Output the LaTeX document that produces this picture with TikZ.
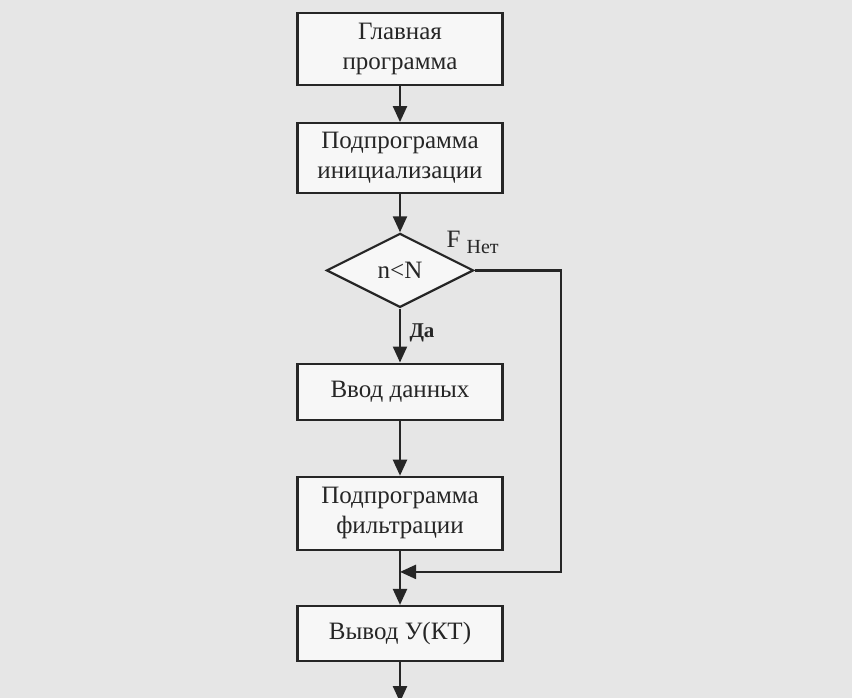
\documentclass[tikz,border=0pt]{standalone}
\usepackage{fontspec}
\setmainfont{Liberation Serif}
\usepackage{tikz}
\usetikzlibrary{arrows.meta,positioning,shapes.geometric}
\definecolor{inkgray}{HTML}{262626}
\definecolor{pagegray}{HTML}{E6E6E6}

\begin{document}
\begin{tikzpicture}[
  x=1pt,y=1pt,
  b/.style={draw=inkgray,line width=2.2pt,fill=black!3,align=center,text=inkgray,
    font=\fontsize{25}{30}\selectfont,minimum width=205pt,inner sep=2pt},
  dec/.style={diamond,draw=inkgray,line width=2.2pt,fill=black!3,text=inkgray,
    font=\fontsize{25}{30}\selectfont,minimum width=147pt,minimum height=74pt,inner sep=0pt},
  lbl/.style={text=inkgray,inner sep=0pt},
  arr/.style={-{Triangle[length=16pt,width=14pt]},draw=inkgray,line width=2.2pt}
]
\fill[pagegray] (0,0) rectangle (852,-698);
\useasboundingbox (0,0) rectangle (852,-698);
\node[b,minimum height=72pt] (main) at (400,-49) {Главная\\программа};
\node[b,minimum height=70pt,below=36pt of main] (init) {Подпрограмма\\инициализации};
\node[dec,below=38pt of init] (cond) {n<N};
\node[b,minimum height=56pt,below=54pt of cond] (inp) {Ввод данных};
\node[b,minimum height=73pt,below=55pt of inp] (filt) {Подпрограмма\\фильтрации};
\node[b,minimum height=55pt,below=54pt of filt] (out) {Вывод У(КТ)};
\coordinate[below=21pt of filt] (join);
\coordinate[below=40pt of out] (end);
\node[lbl,font=\fontsize{25}{30}\selectfont] (f) at ([shift={(-21pt,31pt)}]cond.east) {F};
\node[lbl,font=\fontsize{20}{24}\selectfont] (no) at ([shift={(8pt,23pt)}]cond.east) {Нет};
\node[lbl,font=\fontsize{21}{24}\selectfont\bfseries] (yes) at ([shift={(22pt,-24pt)}]cond.south) {Да};
\draw[arr] (main) -- (init);
\draw[arr] (init) -- (cond);
\draw[arr] (cond) -- (inp);
\draw[arr] (inp) -- (filt);
\draw[arr] (cond.east) -- ++(86pt,0) |- (join);
\draw[arr] (filt) -- (out);
\draw[arr] (out) -- (end);
\end{tikzpicture}
\end{document}
